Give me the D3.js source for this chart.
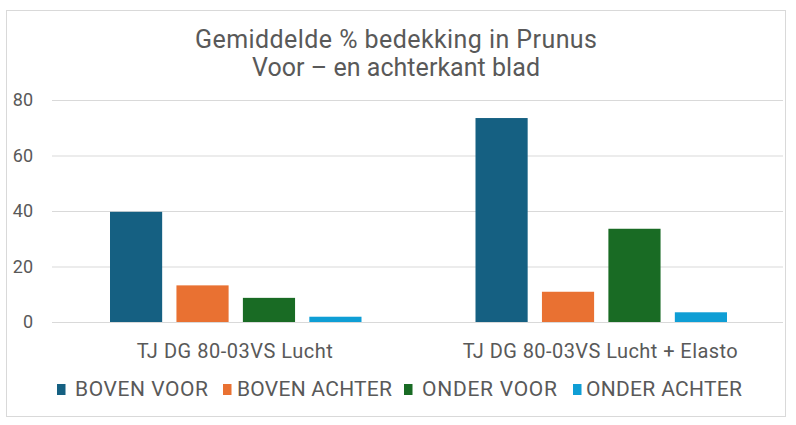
<!DOCTYPE html>
<html>
<head>
<meta charset="utf-8">
<script src="https://cdn.jsdelivr.net/npm/d3@7"></script>
<style>
  body { margin: 0; background: #fff; }
  svg text { font-family: "Roboto", "Liberation Sans", sans-serif; fill: #595959; }
</style>
</head>
<body>
<div id="chart"></div>
<script>
// Grouped bar chart: average % coverage in Prunus
const categories = ["TJ DG 80-03VS Lucht", "TJ DG 80-03VS Lucht + Elasto"];
const seriesNames = ["BOVEN VOOR", "BOVEN ACHTER", "ONDER VOOR", "ONDER ACHTER"];
const seriesColors = ["#156082", "#E97132", "#196B24", "#0F9ED5"];
const bovenVoor = [39.7, 73.5];
const bovenAchter = [13.2, 10.9];
const onderVoor = [8.7, 33.6];
const onderAchter = [1.9, 3.5];
const yTicks = [0, 20, 40, 60, 80];
const titleLines = ["Gemiddelde % bedekking in Prunus", "Voor \u2013 en achterkant blad"];

const seriesValues = [bovenVoor, bovenAchter, onderVoor, onderAchter];
const data = categories.map((c, i) => ({
    category: c,
    values: seriesNames.map((s, j) => ({ name: s, value: seriesValues[j][i] }))
}));

const W = 796, H = 425;
const plot = { left: 52, right: 783, top: 100, bottom: 322 };

const svg = d3.select("#chart")
    .append("svg")
    .attr("width", W)
    .attr("height", H);

// Chart frame
svg.append("rect")
    .attr("x", 6.5).attr("y", 10.5)
    .attr("width", 779).attr("height", 406)
    .attr("fill", "#fff")
    .attr("stroke", "#d9d9d9");

// Title (widths matched to the original narrow font)
const titleWidths = [402, 288];
svg.append("g").selectAll("text")
    .data(titleLines)
    .enter()
    .append("text")
    .attr("x", 396)
    .attr("y", (d, i) => 48 + i * 28.3)
    .attr("text-anchor", "middle")
    .attr("textLength", (d, i) => titleWidths[i])
    .attr("lengthAdjust", "spacing")
    .style("font-size", "25px")
    .text(d => d);

// Scales
const x0 = d3.scaleBand()
    .domain(categories)
    .range([plot.left, plot.right])
    .paddingInner(0)
    .paddingOuter(0);

const x1 = d3.scaleBand()
    .domain(seriesNames)
    .range([58, x0.bandwidth() - 56])
    .paddingInner(0.215)
    .paddingOuter(0);

const y = d3.scaleLinear()
    .domain([0, 80])
    .range([plot.bottom, plot.top]);

// Grid
svg.append("g")
    .attr("transform", `translate(${plot.left},0)`)
    .call(d3.axisLeft(y).tickValues(yTicks).tickSize(-(plot.right - plot.left)).tickFormat(""))
    .call(g => g.select(".domain").remove())
    .call(g => g.selectAll("line").attr("stroke", "#d9d9d9"));

// Y axis labels
svg.append("g")
    .attr("transform", `translate(33,0)`)
    .call(d3.axisLeft(y).tickValues(yTicks).tickSize(0).tickPadding(0))
    .call(g => g.select(".domain").remove())
    .call(g => g.selectAll("text")
        .style("font-family", "Roboto, sans-serif")
        .style("font-size", "18px")
        .attr("fill", "#595959"));

// Bars
const groups = svg.selectAll(".group")
    .data(data)
    .enter()
    .append("g")
    .attr("class", "group")
    .attr("transform", d => `translate(${x0(d.category)},0)`);

groups.selectAll("rect")
    .data(d => d.values)
    .enter()
    .append("rect")
    .attr("x", d => x1(d.name))
    .attr("y", d => y(d.value))
    .attr("width", x1.bandwidth())
    .attr("height", d => y(0) - y(d.value))
    .attr("fill", (d, i) => seriesColors[i]);

// Category axis labels
const catWidths = [196, 275];
svg.append("g")
    .attr("transform", `translate(0,${plot.bottom})`)
    .call(d3.axisBottom(x0).tickSize(0).tickPadding(0))
    .call(g => g.select(".domain").remove())
    .call(g => g.selectAll("text")
        .attr("dy", null)
        .attr("y", 36)
        .attr("textLength", (d, i) => catWidths[i])
        .attr("lengthAdjust", "spacing")
        .style("font-family", "Roboto, sans-serif")
        .style("font-size", "20px")
        .attr("fill", "#595959"));

// Legend
const legendX = [57, 223, 404, 573];
const legendWidths = [133, 155, 135, 156];
const legend = svg.append("g")
    .selectAll("g")
    .data(seriesNames)
    .enter()
    .append("g")
    .attr("transform", (d, i) => `translate(${legendX[i]},0)`);

legend.append("rect")
    .attr("x", 0).attr("y", 384)
    .attr("width", 8.5).attr("height", 11)
    .attr("fill", (d, i) => seriesColors[i]);

legend.append("text")
    .attr("x", (d, i) => [75, 237, 422, 586][i] - legendX[i])
    .attr("y", 396)
    .attr("textLength", (d, i) => legendWidths[i])
    .attr("lengthAdjust", "spacing")
    .style("font-size", "21px")
    .text(d => d);
</script>
</body>
</html>
